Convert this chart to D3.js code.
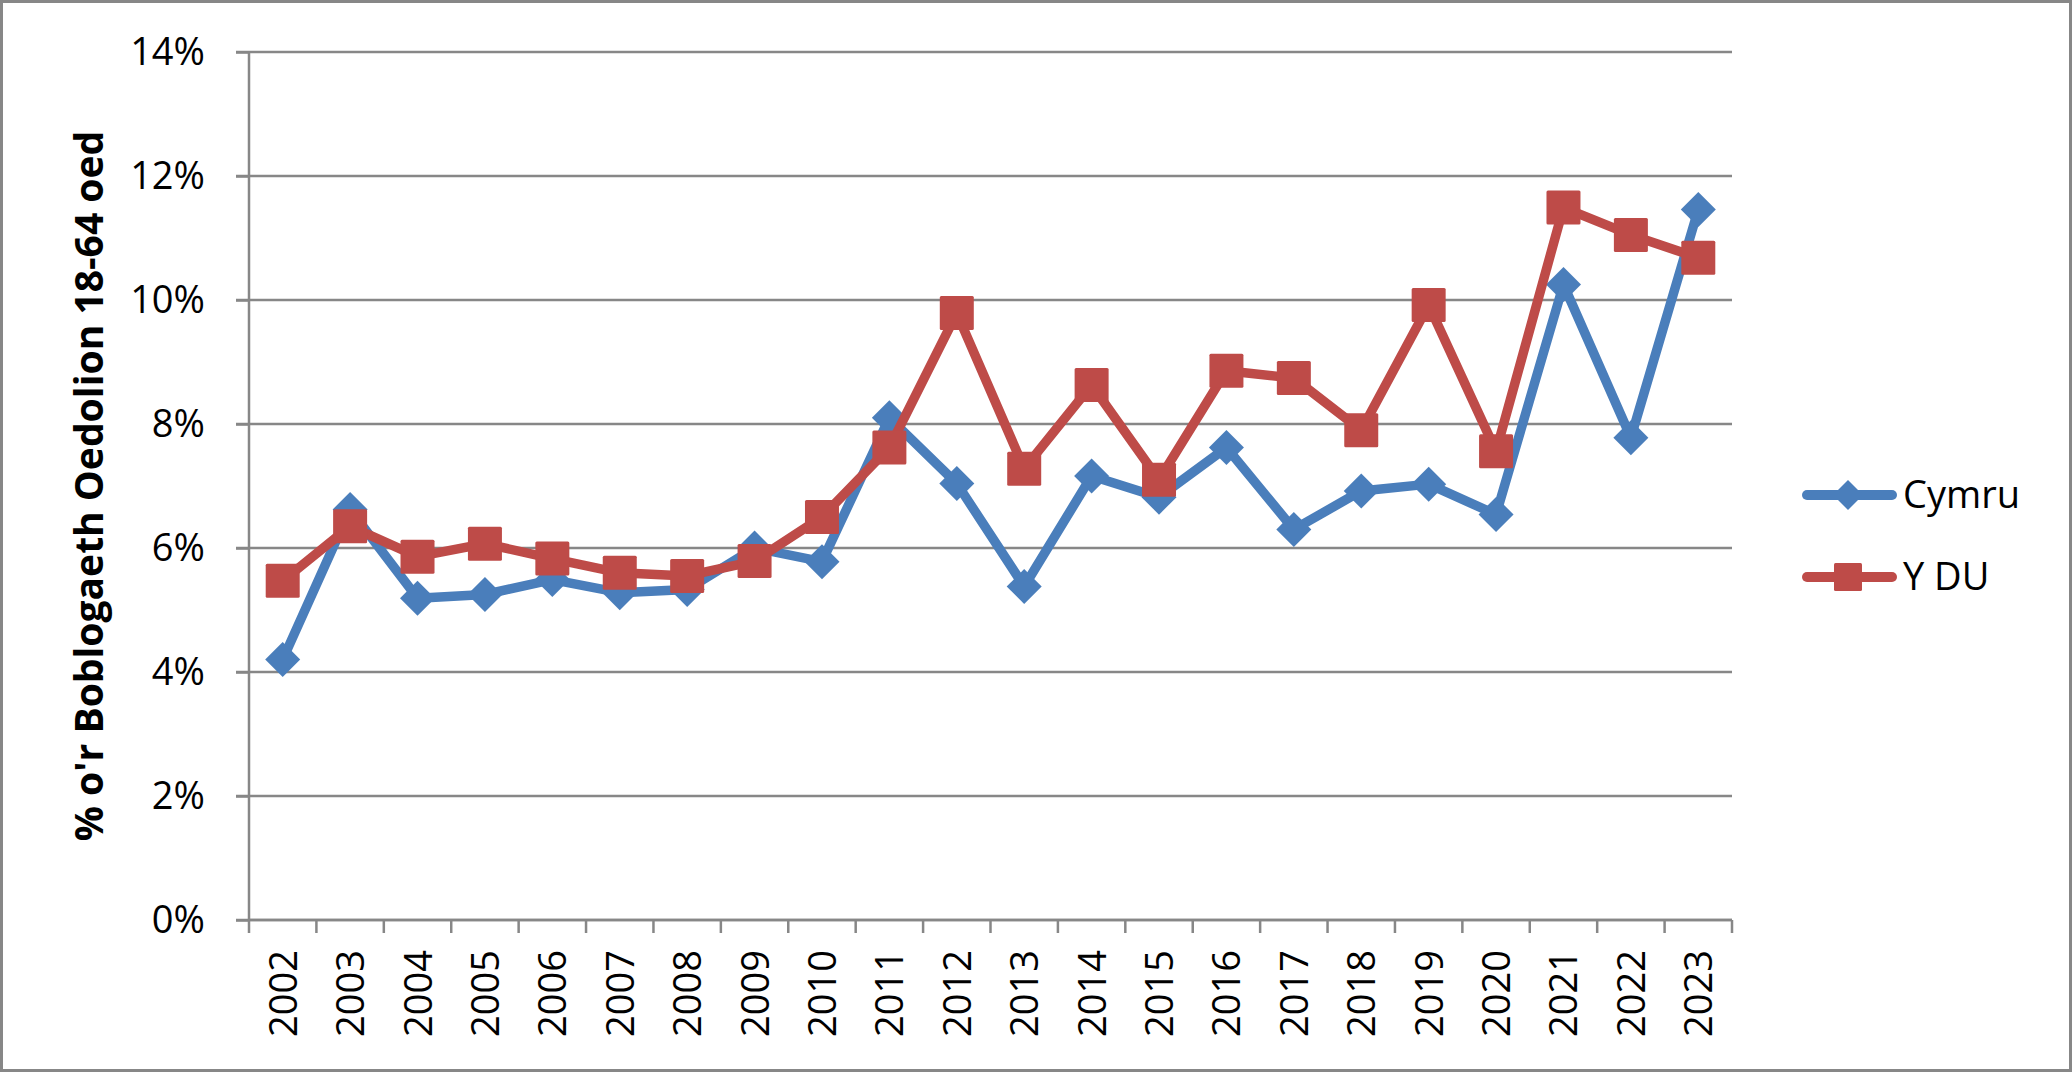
<!DOCTYPE html>
<html>
<head>
<meta charset="utf-8">
<script src="https://cdn.jsdelivr.net/npm/d3@7"></script>
<style>
  html, body { margin: 0; padding: 0; background: #fff; }
  svg { display: block; }
  text { font-family: "Open Sans", "Liberation Sans", sans-serif; fill: #000; }
</style>
</head>
<body>
<script>
const years = ["2002","2003","2004","2005","2006","2007","2008","2009","2010","2011","2012","2013","2014","2015","2016","2017","2018","2019","2020","2021","2022","2023"];
const cymru = [4.20, 6.62, 5.19, 5.25, 5.49, 5.28, 5.33, 6.00, 5.78, 8.10, 7.04, 5.38, 7.16, 6.82, 7.62, 6.30, 6.92, 7.03, 6.54, 10.25, 7.78, 11.46];
const ydu   = [5.47, 6.35, 5.86, 6.07, 5.83, 5.60, 5.55, 5.79, 6.50, 7.62, 9.79, 7.28, 8.63, 7.10, 8.86, 8.74, 7.90, 9.92, 7.56, 11.49, 11.05, 10.68];
const yTicks = [0, 2, 4, 6, 8, 10, 12, 14];
const seriesNames = ["Cymru", "Y DU"];
const yTitle = "% o'r Boblogaeth Oedolion 18-64 oed";

const W = 2072, H = 1072;
const mLeft = 249, mRight = 1732, mTop = 52, mBottom = 920;
const blue = "#4A7EBB", red = "#BE4B48", grid = "#878787";

const svg = d3.select("body").append("svg").attr("width", W).attr("height", H);

// outer frame
svg.append("rect").attr("x", 1.5).attr("y", 1.5).attr("width", W - 3).attr("height", H - 3)
  .attr("fill", "#fff").attr("stroke", grid).attr("stroke-width", 3);

const x = d3.scaleBand().domain(years).range([mLeft, mRight]).padding(0);
const y = d3.scaleLinear().domain([0, 14]).range([mBottom, mTop]);

// gridlines
svg.append("g").selectAll("line").data(yTicks).join("line")
  .attr("x1", mLeft - 13).attr("x2", mRight)
  .attr("y1", d => y(d)).attr("y2", d => y(d))
  .attr("stroke", grid).attr("stroke-width", 2.5);

// y axis
const yAxis = svg.append("g").attr("transform", `translate(${mLeft},0)`)
  .call(d3.axisLeft(y).tickValues(yTicks).tickFormat(d => d + "%").tickSize(13).tickPadding(31));
yAxis.select(".domain").attr("stroke", grid).attr("stroke-width", 2.5).attr("d", `M0,${mTop}V${mBottom}`);
yAxis.selectAll(".tick line").attr("stroke", grid).attr("stroke-width", 2.5);
yAxis.selectAll(".tick text").attr("font-size", 38).attr("font-family", "Open Sans").attr("fill", "#000");

// x axis
const xAxis = svg.append("g").attr("transform", `translate(0,${mBottom})`);
xAxis.append("line").attr("x1", mLeft).attr("x2", mRight).attr("y1", 0).attr("y2", 0)
  .attr("stroke", grid).attr("stroke-width", 2.5);
const bounds = years.map(d => x(d)).concat([mRight]);
xAxis.selectAll("line.tk").data(bounds).join("line").attr("class", "tk")
  .attr("x1", d => d).attr("x2", d => d).attr("y1", 0).attr("y2", 13)
  .attr("stroke", grid).attr("stroke-width", 2.5);
xAxis.selectAll("text").data(years).join("text")
  .attr("transform", d => `translate(${x(d) + x.bandwidth() / 2 + 14},30) rotate(-90)`)
  .attr("text-anchor", "end")
  .attr("font-size", 38)
  .text(d => d);

// y title
svg.append("text")
  .attr("transform", `translate(103,486) rotate(-90)`)
  .attr("text-anchor", "middle")
  .attr("font-size", 39).attr("font-weight", "bold")
  .text(yTitle);

// lines
const cx = d => x(d) + x.bandwidth() / 2;
const line = d3.line().x(d => cx(d.year)).y(d => y(d.v));
const dataC = years.map((yr, i) => ({ year: yr, v: cymru[i] }));
const dataU = years.map((yr, i) => ({ year: yr, v: ydu[i] }));

function diamond(sel, s) {
  sel.attr("d", `M0,${-s}L${s},0L0,${s}L${-s},0Z`);
}

svg.append("path").datum(dataC).attr("d", line).attr("fill", "none")
  .attr("stroke", blue).attr("stroke-width", 9.5).attr("stroke-linejoin", "round").attr("stroke-linecap", "round");
svg.append("g").selectAll("path").data(dataC).join("path")
  .attr("transform", d => `translate(${cx(d.year)},${y(d.v)})`)
  .call(diamond, 17.5).attr("fill", blue);

svg.append("path").datum(dataU).attr("d", line).attr("fill", "none")
  .attr("stroke", red).attr("stroke-width", 9.5).attr("stroke-linejoin", "round").attr("stroke-linecap", "round");
svg.append("g").selectAll("rect").data(dataU).join("rect")
  .attr("x", d => cx(d.year) - 17).attr("y", d => y(d.v) - 17)
  .attr("width", 34).attr("height", 34).attr("rx", 1.5).attr("fill", red);

// legend
const lg = svg.append("g");
const legendItems = [{ name: seriesNames[0], color: blue, yy: 495, shape: "d" }, { name: seriesNames[1], color: red, yy: 577, shape: "s" }];
legendItems.forEach(it => {
  lg.append("line").attr("x1", 1807).attr("x2", 1892).attr("y1", it.yy).attr("y2", it.yy)
    .attr("stroke", it.color).attr("stroke-width", 10).attr("stroke-linecap", "round");
  if (it.shape === "d") {
    lg.append("path").attr("transform", `translate(1848,${it.yy})`).call(diamond, 15).attr("fill", it.color);
  } else {
    lg.append("rect").attr("x", 1834).attr("y", it.yy - 14).attr("width", 28).attr("height", 28).attr("rx", 1.5).attr("fill", it.color);
  }
  lg.append("text").attr("x", 1903).attr("y", it.yy + 13).attr("font-size", 38).text(it.name);
});
</script>
</body>
</html>
